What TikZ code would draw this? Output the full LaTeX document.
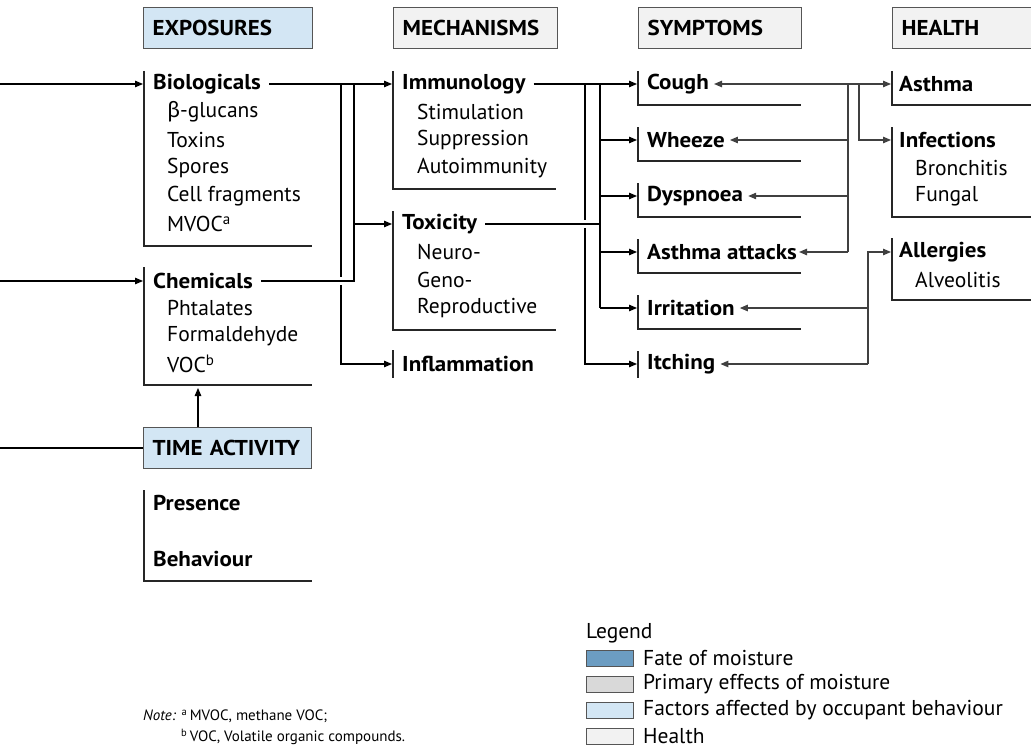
\documentclass[tikz,border=0pt]{standalone}
\usepackage{fontspec}
\setmainfont{PT Sans}[BoldFeatures={FakeStretch=1.07}]
\newfontfamily\grk{Fira Sans}
\usetikzlibrary{arrows.meta}
\definecolor{lblue}{RGB}{211,230,244}
\definecolor{lgray}{RGB}{242,242,242}
\definecolor{mgray}{RGB}{217,217,217}
\definecolor{sblue}{RGB}{108,157,194}
\definecolor{edge}{RGB}{85,85,85}
\begin{document}
\begin{tikzpicture}[x=1pt,y=-1pt,
  font=\fontsize{21.5}{25}\selectfont,
  ln/.style={line width=1.1pt, draw=black},
  gl/.style={line width=1.1pt, draw=black!75},
  arr/.style={-{Triangle[length=8pt,width=6.5pt]}},
  txt/.style={anchor=west, inner sep=0pt},
  ttl/.style={txt, font=\fontsize{21.5}{25}\selectfont\bfseries},
  hdr/.style={draw=edge, line width=1.2pt, anchor=north west, inner xsep=9pt, inner ysep=0pt, minimum height=41pt, align=left, font=\fontsize{21.5}{25}\selectfont\bfseries},
  brk/.style={line width=1.1pt, draw=black!85},
  sw/.style={draw=edge, line width=1pt, minimum width=47pt, minimum height=16pt, inner sep=0pt, anchor=west},
  note/.style={anchor=west, inner sep=0pt, font=\fontsize{15}{18}\selectfont},
]
\useasboundingbox (0,0) rectangle (1031,752);

% headers
\node[hdr, fill=lblue, text width=151pt] (hexp) at (143,7) {EXPOSURES};
\node[hdr, fill=lgray, text width=146pt] (hmech) at (393,7) {MECHANISMS};
\node[hdr, fill=lgray, text width=145pt] (hsym) at (638,7) {SYMPTOMS};
\node[hdr, fill=lgray, text width=145pt] (hhea) at (892,7) {HEALTH};

% exposures
\node[ttl] (bio) at (153,84) {Biologicals};
\node[txt] (b1) at (167,112) {{\grk β}-glucans};
\node[txt] (b2) at (167,140) {Toxins};
\node[txt] (b3) at (167,168) {Spores};
\node[txt] (b4) at (167,196) {Cell fragments};
\node[txt] (b5) at (167,224) {MVOC\textsuperscript{a}};
\draw[brk] (144,71) -- (144,246) -- (312,246);

\node[ttl] (chem) at (153,281) {Chemicals};
\node[txt] (c1) at (167,308) {Phtalates};
\node[txt] (c2) at (167,336) {Formaldehyde};
\node[txt] (c3) at (167,364) {VOC\textsuperscript{b}};
\draw[brk] (144,267) -- (144,385) -- (312,385);
\coordinate (chemBot) at (198,388);

\node[hdr, fill=lblue, text width=150pt] (ta) at (143,427) {TIME ACTIVITY};

\node[ttl] (pres) at (153,503) {Presence};
\node[ttl] (beh) at (153,559) {Behaviour};
\draw[brk] (144,490) -- (144,581) -- (312,581);

% left inputs
\coordinate (inA) at (0,84);
\coordinate (inB) at (0,281);
\coordinate (inC) at (0,448);
\coordinate (bioIn) at (143,84);
\coordinate (chemIn) at (143,281);
\draw[ln,arr] (inA) -- (bioIn);
\draw[ln,arr] (inB) -- (chemIn);
\draw[ln] (inC) -- (ta.west |- inC);
\draw[ln,arr] (ta.north -| chemBot) -- (chemBot);

% mechanisms
\node[ttl] (imm) at (402,84) {Immunology};
\node[txt] (m1) at (417,112) {Stimulation};
\node[txt] (m2) at (417,140) {Suppression};
\node[txt] (m3) at (417,168) {Autoimmunity};
\draw[brk] (393,71) -- (393,189) -- (556,189);

\node[ttl] (tox) at (402,224) {Toxicity};
\node[txt] (t1) at (417,252) {Neuro-};
\node[txt] (t2) at (417,280) {Geno-};
\node[txt] (t3) at (417,308) {Reproductive};
\draw[brk] (393,211) -- (393,330) -- (556,330);

\node[ttl] (inf) at (402,364) {Inflammation};
\draw[brk] (393,350) -- (393,378);

% exposures -> mechanisms
\coordinate (immIn) at (392,84);
\coordinate (toxIn) at (392,224);
\coordinate (infIn) at (392,364);
\draw[ln,arr] ([xshift=8pt]bio.east) -- (immIn);
\draw[ln] (341,84) -- (341,277);
\draw[ln,arr] (341,285) -- (341,364) -- (infIn);
\draw[ln] ([xshift=8pt]chem.east) -- (354,281) -- (354,84);
\draw[ln,arr] (354,224) -- (toxIn);

% symptoms
\node[ttl] (cough) at (647,84) {Cough};
\node[ttl] (whz) at (647,140) {Wheeze};
\node[ttl] (dys) at (647,196) {Dyspnoea};
\node[ttl] (att) at (647,252) {Asthma attacks};
\node[ttl] (irr) at (647,308) {Irritation};
\node[ttl] (itch) at (647,364) {Itching};
\foreach \r in {84,140,196,252,308}{
  \draw[brk] (638,\r-13) -- (638,\r+21) -- (801,\r+21);
}
\draw[brk] (638,351) -- (638,378);

% mechanisms -> symptoms
\foreach \r/\n in {84/coughIn,140/whzIn,196/dysIn,252/attIn,308/irrIn,364/itchIn}{
  \coordinate (\n) at (637,\r);
}
\draw[ln,arr] ([xshift=8pt]imm.east) -- (coughIn);
\draw[ln] (600,84) -- (600,308);
\draw[ln,arr] (600,140) -- (whzIn);
\draw[ln,arr] (600,196) -- (dysIn);
\draw[ln,arr] (600,252) -- (attIn);
\draw[ln,arr] (600,308) -- (irrIn);
\draw[ln] ([xshift=8pt]tox.east) -- (600,224);
\draw[ln] (585,84) -- (585,220);
\draw[ln,arr] (585,228) -- (585,364) -- (itchIn);

% health
\node[ttl] (asth) at (899,84) {Asthma};
\draw[brk] (892,71) -- (892,105) -- (1040,105);
\node[ttl] (infc) at (899,140) {Infections};
\node[txt] (h1) at (915,168) {Bronchitis};
\node[txt] (h2) at (915,196) {Fungal};
\draw[brk] (892,127) -- (892,217) -- (1040,217);
\node[ttl] (allg) at (899,252) {Allergies};
\node[txt] (h3) at (915,280) {Alveolitis};
\draw[brk] (892,238) -- (892,300) -- (1040,300);

\coordinate (asthIn) at (891,84);
\coordinate (infcIn) at (891,140);
\coordinate (allgIn) at (891,252);
\draw[gl,arr] (848,84) -- ([xshift=5pt]cough.east);
\draw[gl,arr] (848,84) -- (asthIn);
\draw[gl] (848,84) -- (848,252);
\draw[gl,arr] (848,140) -- ([xshift=5pt]whz.east);
\draw[gl,arr] (848,196) -- ([xshift=5pt]dys.east);
\draw[gl,arr] (848,252) -- ([xshift=2pt]att.east);
\draw[gl,arr] (859,84) -- (859,140) -- (infcIn);
\draw[gl,arr] (868,364) -- (868,252) -- (allgIn);
\draw[gl,arr] (868,308) -- ([xshift=5pt]irr.east);
\draw[gl,arr] (868,364) -- ([xshift=5pt]itch.east);

% legend
\node[txt] (leg) at (586,633) {Legend};
\node[sw, fill=sblue] (s1) at (586,658) {};
\node[sw, fill=mgray] (s2) at (586,684) {};
\node[sw, fill=lblue] (s3) at (586,710) {};
\node[sw, fill=lgray] (s4) at (586,736) {};
\node[txt] (l1) at (643,658) {Fate of moisture};
\node[txt] (l2) at (643,684) {Primary effects of moisture};
\node[txt] (l3) at (643,710) {Factors affected by occupant behaviour};
\node[txt] (l4) at (643,736) {Health};

% note
\node[note] (n1) at (143,716) {\textit{Note:} \textsuperscript{a}\,MVOC, methane VOC;};
\node[note] (n2) at (181,737) {\textsuperscript{b}\,VOC, Volatile organic compounds.};
\end{tikzpicture}
\end{document}
